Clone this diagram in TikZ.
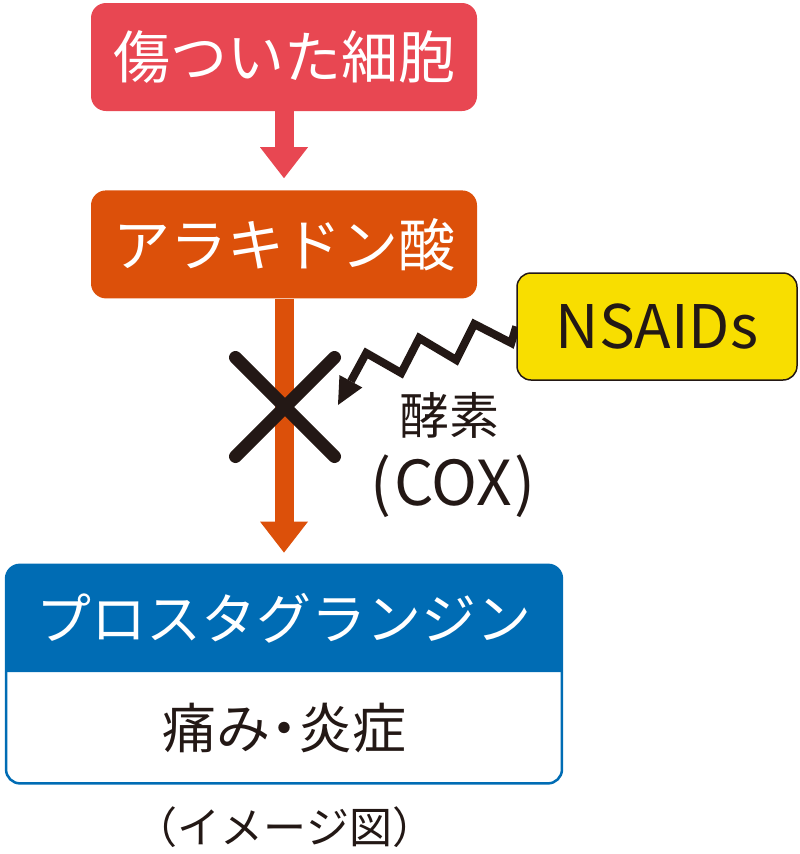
\documentclass[tikz,border=0pt]{standalone}
\usepackage{fontspec}
\setmainfont{Noto Sans CJK JP}
\usepackage{tikz}
\usetikzlibrary{arrows.meta,shapes.misc,positioning,backgrounds}
\definecolor{cellred}{RGB}{232,71,82}
\definecolor{acidorange}{RGB}{220,80,10}
\definecolor{pgblue}{RGB}{0,108,180}
\definecolor{drugyellow}{RGB}{248,222,0}
\definecolor{inkblack}{RGB}{35,24,21}
\tikzstyle{stepbox} = [rectangle, rounded corners=15pt, minimum width=386pt, minimum height=108pt, inner sep=0pt, text=white, font=\fontsize{57}{60}\selectfont]
\tikzstyle{flow} = [line width=19pt, -{Triangle[width=48pt,length=31pt,line width=0pt]}]
\tikzstyle{zig} = [inkblack, line width=8pt, line join=miter, -{Triangle[width=26pt,length=27pt,line width=0pt]}]
\tikzstyle{drug} = [rectangle, rounded corners=14pt, minimum width=280pt, minimum height=107pt, draw=inkblack, line width=1.5pt, fill=drugyellow, text=inkblack, font=\fontsize{60}{64}\selectfont]
\tikzstyle{note} = [inner sep=0pt, text=inkblack]

\begin{document}
\begin{tikzpicture}[x=1pt, y=-1pt]
\useasboundingbox (0,0) rectangle (800,854);
% Cascade
\node (cell) [stepbox, fill=cellred] at (284,57) {傷ついた細胞};
\node (acid) [stepbox, fill=acidorange, below=79pt of cell] {アラキドン酸};
\node (pg) [stepbox, minimum width=558pt, font=\fontsize{55}{58}\selectfont, below=265pt of acid] {プロスタグランジン};
\node (pain) [stepbox, minimum width=555.5pt, minimum height=111pt, text=inkblack, font=\fontsize{54}{58}\selectfont, below=0pt of pg] {痛み\kern-13pt・\kern-13pt炎症};
\begin{scope}[on background layer]
\fill[pgblue, rounded corners=15pt] (pg.south west) -- (pg.north west) -- (pg.north east) [sharp corners] -- (pg.south east) -- cycle;
\end{scope}
\draw[pgblue, line width=2.5pt, rounded corners=14pt] (pain.north west) -- (pain.south west) -- (pain.south east) -- (pain.north east);

% Connections
\draw[flow, cellred, shorten >=12pt] (cell) -- (acid);
\draw[flow, acidorange, shorten >=11pt] (acid) -- (pg);

% Inhibitor
\node (nsaids) [drug] at (657,326.5) {NSAIDs};
\coordinate (hit) at (338,405);
\begin{scope}[on background layer]
\draw[zig] (nsaids.west) -- ++(-5,16.5) -- ++(-37,-19) -- ++(-18,36) -- ++(-37,-22) -- ++(-18,35) -- ++(-35,-20) -- (hit);
\end{scope}
\node (block) [cross out, draw=inkblack, line width=13pt, line cap=round, minimum size=86pt, inner sep=0pt] at (285,407) {};
\node (enz) [note, font=\fontsize{50}{54}\selectfont] at (449,415) {酵素};
\node (cox) [note, anchor=base, font=\fontsize{62}{66}\selectfont] at (453,505) {(\kern3pt COX\kern3pt)};

% Caption
\node (cap) [note, font=\fontsize{43}{46}\selectfont] at (285,827) {（イメージ図）};
\end{tikzpicture}
\end{document}
